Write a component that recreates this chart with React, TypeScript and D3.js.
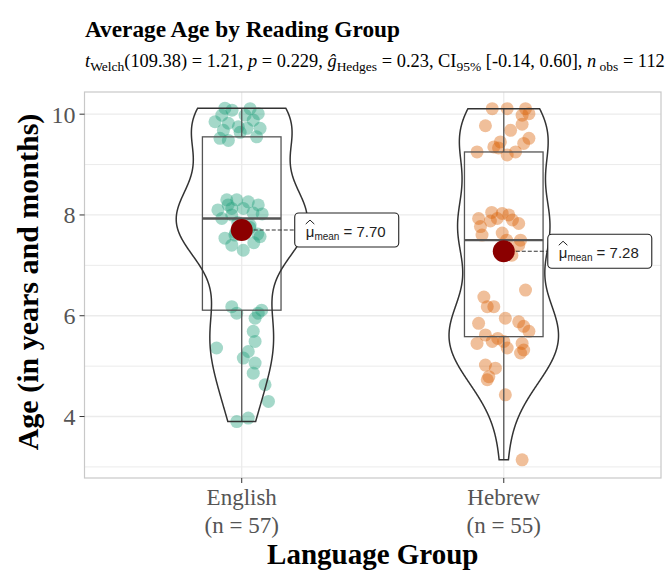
import React from "react";
import * as d3 from "d3";

const categories = ["English", "Hebrew"];
const groupColors = ["#1B9E77", "#D95F02"];
const meanValues = [7.7, 7.28];
const yTicks = [4, 6, 8, 10];
const yMinorTicks = [3, 5, 7, 9];

const englishAges = [
  10.12, 9.98, 9.85, 9.82, 9.52, 9.75, 9.64, 10.11, 10.01, 9.88, 9.72, 9.55, 9.68, 9.48, 9.98, 10.08, 9.72,
  8.3, 8.3, 8.26, 8.2, 8.13, 8.13, 7.93, 8.0, 8.04, 7.54, 7.6, 7.57, 7.3, 7.8, 8.2, 8.1, 8.02, 7.7, 7.65, 7.75, 7.85, 7.45, 7.4, 7.62,
  6.18, 6.05, 6.05, 6.11, 5.95, 5.69, 5.49, 5.36, 5.29, 5.16, 5.06, 4.86, 4.63, 4.3, 3.9, 3.97,
];
const englishJitter = [
  -0.064, -0.076, -0.102, -0.051, -0.083, -0.013, -0.006, 0.032, 0.063, 0.044, 0.07, 0.057, -0.07, -0.051, 0.013, -0.037, 0.02,
  -0.057, -0.019, 0.025, 0.063, -0.038, 0.006, -0.076, -0.038, 0.043, -0.064, -0.026, 0.07, 0.006, 0.032, -0.052, -0.091, 0.078, 0, -0.023, 0.031, -0.015, 0.046, -0.038, 0.061,
  -0.038, -0.019, 0.063, 0.076, 0.051, 0.044, 0.051, -0.096, 0.025, 0.006, 0.051, 0.044, 0.089, 0.102, -0.019, 0.025,
];
const hebrewAges = [
  10.11, 10.11, 10.11, 10.01, 9.98, 9.77, 9.68, 9.8, 9.52, 9.42, 9.45, 9.35, 9.25, 9.19, 9.25, 9.33,
  7.93, 7.77, 7.6, 7.93, 8.03, 8.0, 7.83, 7.64, 7.5, 7.4, 7.88, 7.9, 7.5, 8.05, 7.2,
  6.51, 6.37, 6.18, 6.18, 5.95, 5.85, 5.88, 5.79, 5.69, 5.62, 5.45, 5.49, 5.49, 5.36, 5.45, 5.32, 5.26, 5.02, 4.96, 4.79, 4.73, 4.43, 3.14, 5.55,
];
const hebrewJitter = [
  -0.044, 0.013, 0.083, 0.096, 0.07, -0.07, 0.026, 0.07, 0.096, 0.076, -0.013, -0.038, -0.102, 0.013, 0.045, -0.02,
  -0.096, -0.089, -0.083, -0.025, -0.006, 0.019, 0.057, -0.006, 0.064, 0.057, -0.051, 0.033, 0.011, -0.046, 0.031,
  0.083, -0.076, -0.063, -0.038, 0.006, -0.096, 0.057, 0.076, 0.096, -0.07, -0.102, -0.044, 0, 0.013, 0.07, 0.076, 0.064, -0.07, -0.032, -0.057, -0.063, 0.006, 0.07, -0.023,
];

const groupAges = [englishAges, hebrewAges];
const groupJitter = [englishJitter, hebrewJitter];

const W = 670;
const H = 574;
const panel = { left: 84.5, right: 661, top: 92, bottom: 478 };
const serif = "'Liberation Serif', 'Times New Roman', serif";
const sans = "'Liberation Sans', Arial, sans-serif";

function nrd0(v: number[]) {
  const s = d3.deviation(v) as number;
  const sorted = [...v].sort((a, b) => a - b);
  const iqr = (d3.quantileSorted(sorted, 0.75) as number) - (d3.quantileSorted(sorted, 0.25) as number);
  const lo = Math.min(s, iqr / 1.34);
  return 0.9 * lo * Math.pow(v.length, -0.2);
}

function kde(v: number[], bw: number, grid: number[]) {
  return grid.map((g) => d3.mean(v, (x) => Math.exp(-0.5 * ((g - x) / bw) ** 2) / (bw * Math.sqrt(2 * Math.PI))) as number);
}

export default function App() {
  const x = d3.scaleLinear().domain([0.4, 2.6]).range([panel.left, panel.right]);
  const y = d3.scaleLinear().domain([2.78, 10.44]).range([panel.bottom, panel.top]);
  const unit = x(1) - x(0);

  const dens = groupAges.map((v) => {
    const [lo, hi] = d3.extent(v) as [number, number];
    const grid = d3.range(512).map((i) => lo + ((hi - lo) * i) / 511);
    return { grid, d: kde(v, nrd0(v), grid) };
  });
  const maxD = d3.max(dens, (g) => d3.max(g.d) as number) as number;

  const violinPaths = dens.map((g, gi) => {
    const cx = x(gi + 1);
    const right = g.grid.map((v, i) => [cx + (g.d[i] / maxD) * 0.25 * unit, y(v)] as [number, number]);
    const left = g.grid.map((v, i) => [cx - (g.d[i] / maxD) * 0.25 * unit, y(v)] as [number, number]).reverse();
    return (d3.line()([...right, ...left]) as string) + "Z";
  });

  const boxes = groupAges.map((v, gi) => {
    const s = [...v].sort((a, b) => a - b);
    const q1 = d3.quantileSorted(s, 0.25) as number;
    const med = d3.quantileSorted(s, 0.5) as number;
    const q3 = d3.quantileSorted(s, 0.75) as number;
    const iqr = q3 - q1;
    const lowW = d3.min(s.filter((d) => d >= q1 - 1.5 * iqr)) as number;
    const highW = d3.max(s.filter((d) => d <= q3 + 1.5 * iqr)) as number;
    return { gi, q1, med, q3, lowW, highW };
  });

  const labelOffset = [53, 44];
  const tickColor = "#555";

  return (
    <svg width={W} height={H} style={{ position: "absolute", left: 0, top: 0, background: "#fff" }}>
      <rect x={0} y={0} width={W} height={H} fill="#fff" />
      {/* grid */}
      {yMinorTicks.map((t) => (
        <line key={"mn" + t} x1={panel.left} x2={panel.right} y1={y(t)} y2={y(t)} stroke="#EBEBEB" strokeWidth={1} />
      ))}
      {yTicks.map((t) => (
        <line key={"mj" + t} x1={panel.left} x2={panel.right} y1={y(t)} y2={y(t)} stroke="#EBEBEB" strokeWidth={1.3} />
      ))}
      {categories.map((c, i) => (
        <line key={"vx" + c} x1={x(i + 1)} x2={x(i + 1)} y1={panel.top} y2={panel.bottom} stroke="#EBEBEB" strokeWidth={1.3} />
      ))}
      {/* points */}
      {groupAges.map((v, gi) =>
        v.map((a, i) => (
          <circle key={gi + "-" + i} cx={x(gi + 1 + groupJitter[gi][i])} cy={y(a)} r={6.5} fill={groupColors[gi]} fillOpacity={0.4} />
        ))
      )}
      {/* boxes */}
      {boxes.map((b) => {
        const cx = x(b.gi + 1);
        const hw = 0.15 * unit;
        return (
          <g key={"box" + b.gi} stroke="#555" fill="none">
            <line x1={cx} x2={cx} y1={y(b.q3)} y2={y(b.highW)} strokeWidth={1.3} />
            <line x1={cx} x2={cx} y1={y(b.q1)} y2={y(b.lowW)} strokeWidth={1.3} />
            <rect x={cx - hw} y={y(b.q3)} width={2 * hw} height={y(b.q1) - y(b.q3)} strokeWidth={1.3} />
            <line x1={cx - hw} x2={cx + hw} y1={y(b.med)} y2={y(b.med)} strokeWidth={2.4} />
          </g>
        );
      })}
      {/* violins */}
      {violinPaths.map((p, i) => (
        <path key={"vio" + i} d={p} fill="none" stroke="#333" strokeWidth={1.5} />
      ))}
      {/* means */}
      {meanValues.map((m, gi) => {
        const cx = x(gi + 1);
        const cy = y(m);
        const bx = cx + labelOffset[gi];
        return (
          <g key={"mean" + gi}>
            <line x1={cx} x2={bx} y1={cy} y2={cy} stroke="#333" strokeWidth={1.1} strokeDasharray="4,2" />
            <circle cx={cx} cy={cy} r={11} fill="#8B0000" />
            <rect x={bx} y={cy - 17} width={104} height={34} rx={4} fill="#fff" stroke="#222" strokeWidth={1.1} />
            <path d={`M${bx + 11},${cy - 6} L${bx + 15.3},${cy - 10} L${bx + 19.6},${cy - 6}`} fill="none" stroke="#222" strokeWidth={1} />
            <text x={bx + 11} y={cy + 7} fontFamily={sans} fontSize={15} fill="#222">
              <tspan>{"\u03BC"}</tspan>
              <tspan fontSize={10} dy={3}>mean</tspan>
              <tspan dy={-3} fontSize={15}> = {m.toFixed(2)}</tspan>
            </text>
          </g>
        );
      })}
      {/* panel border */}
      <rect x={panel.left} y={panel.top} width={panel.right - panel.left} height={panel.bottom - panel.top} fill="none" stroke="#C8C8C8" strokeWidth={1.2} />
      {/* y axis */}
      {yTicks.map((t) => (
        <g key={"yt" + t}>
          <line x1={panel.left - 5} x2={panel.left} y1={y(t)} y2={y(t)} stroke="#333" strokeWidth={1} />
          <text x={panel.left - 9} y={y(t)} dy="0.35em" textAnchor="end" fontFamily={serif} fontSize={24} fill={tickColor}>
            {t}
          </text>
        </g>
      ))}
      {/* x axis */}
      {categories.map((c, i) => (
        <g key={"xt" + c}>
          <line x1={x(i + 1)} x2={x(i + 1)} y1={panel.bottom} y2={panel.bottom + 5} stroke="#333" strokeWidth={1} />
          <text x={x(i + 1)} y={505} textAnchor="middle" fontFamily={serif} fontSize={23} fill={tickColor}>
            {c}
          </text>
          <text x={x(i + 1)} y={533} textAnchor="middle" fontFamily={serif} fontSize={23} fill={tickColor}>
            (n = {groupAges[i].length})
          </text>
        </g>
      ))}
      <text x={(panel.left + panel.right) / 2} y={564} textAnchor="middle" fontFamily={serif} fontSize={29} fontWeight="bold" fill="#000">
        Language Group
      </text>
      <text transform={`translate(38, ${(panel.top + panel.bottom) / 2 - 3}) rotate(-90)`} textAnchor="middle" fontFamily={serif} fontSize={30} fontWeight="bold" fill="#000">
        Age (in years and months)
      </text>
      {/* titles */}
      <text x={85} y={37} fontFamily={serif} fontSize={23.3} fontWeight="bold" fill="#000">
        Average Age by Reading Group
      </text>
      <text x={85} y={67} fontFamily={serif} fontSize={18.4} fill="#000">
        <tspan fontStyle="italic">t</tspan>
        <tspan fontSize={13.5} dy={4}>Welch</tspan>
        <tspan dy={-4}>(109.38) = 1.21, </tspan>
        <tspan fontStyle="italic">p</tspan>
        <tspan> = 0.229, </tspan>
        <tspan fontStyle="italic">ĝ</tspan>
        <tspan fontSize={13.5} dy={4}>Hedges</tspan>
        <tspan dy={-4}> = 0.23, CI</tspan>
        <tspan fontSize={13.5} dy={4}>95%</tspan>
        <tspan dy={-4}> [-0.14, 0.60], </tspan>
        <tspan fontStyle="italic">n</tspan>
        <tspan fontSize={13.5} dy={4}> obs</tspan>
        <tspan dy={-4}> = 112</tspan>
      </text>
    </svg>
  );
}
